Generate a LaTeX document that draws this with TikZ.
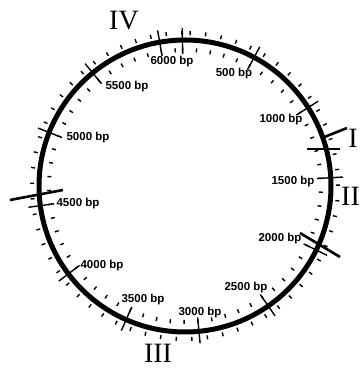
\documentclass[tikz,border=0pt]{standalone}
\usepackage{fontspec}
\setmainfont{Liberation Serif}
\newfontfamily\bpfont{Liberation Sans}
\usetikzlibrary{calc}

\begin{document}
\begin{tikzpicture}[x=1pt,y=1pt,
  bplab/.style={font=\bpfont\bfseries\fontsize{11.5}{12}\selectfont,inner sep=0pt},
  region/.style={font=\fontsize{28}{28}\selectfont,inner sep=0pt},
  minor/.style={line width=1.4pt},
  major/.style={line width=1.4pt},
  border/.style={line width=2.6pt}]
  \useasboundingbox (0,0) rectangle (361,370);
  \coordinate (C) at (185,184);
  % plasmid backbone
  \draw[line width=5pt] (C) circle (146);
  % minor ticks, inside and outside, every 100 bp
  \foreach \b in {0,100,...,6100} {
    \pgfmathsetmacro{\a}{91-0.0585*\b}
    \pgfmathsetmacro{\c}{91-0.0585*(\b+50)}
    \draw[minor] ($(C)+(\a:134)$) -- ($(C)+(\a:138)$);
    \draw[minor] ($(C)+(\c:151)$) -- ($(C)+(\c:155)$);
  }
  % major ticks every 500 bp
  \foreach \b in {0,500,...,6000} {
    \pgfmathsetmacro{\a}{91-0.0585*\b}
    \draw[major] ($(C)+(\a:132)$) -- ($(C)+(\a:158)$);
  }
  % position labels
  \foreach \b/\px/\py in {6000/172/308,500/234/296,1000/281/250,1500/293/188,
      2000/280/131,2500/246/82,3000/200/57,3500/143/70,4000/102/104,
      4500/78/166,5000/88/232,5500/127/283}
    \node[bplab] (bp\b) at (\px,\py) {\b\ bp};
  % region borders
  \draw[border] (10,170) -- (63,180);
  \draw[border] (300,137) -- (340,113);
  \draw[border] (307,221) -- (340,221);
  \draw[border] (322,232) -- (347,242);
  % region names
  \node[region] (regIV) at (124,349) {IV};
  \node[region] (regI) at (353,232) {I};
  \node[region,anchor=west] (regII) at (341,174) {II};
  \node[region] (regIII) at (158,17) {III};
\end{tikzpicture}
\end{document}
